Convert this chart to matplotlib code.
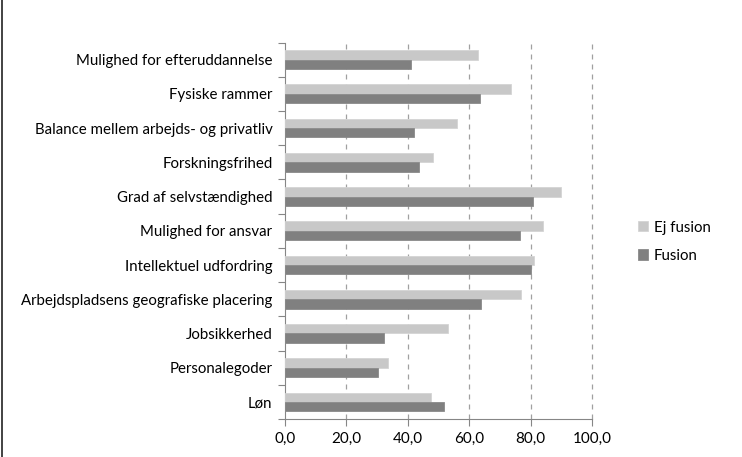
import matplotlib.pyplot as plt
import numpy as np
from matplotlib.lines import Line2D

plt.rcParams['font.family'] = ['Lato', 'DejaVu Sans']

categories = [
    "Mulighed for efteruddannelse",
    "Fysiske rammer",
    "Balance mellem arbejds- og privatliv",
    "Forskningsfrihed",
    "Grad af selvstændighed",
    "Mulighed for ansvar",
    "Intellektuel udfordring",
    "Arbejdspladsens geografiske placering",
    "Jobsikkerhed",
    "Personalegoder",
    "Løn",
]
ej_fusion = [63.0, 73.5, 55.9, 48.1, 90.0, 84.1, 81.2, 76.8, 53.1, 33.7, 47.5]
fusion = [41.1, 63.6, 42.0, 43.5, 80.9, 76.6, 80.2, 63.7, 32.1, 30.3, 51.7]
xticks = [0, 20, 40, 60, 80, 100]

fig = plt.figure(figsize=(7.42, 4.57), dpi=100)
ax = fig.add_axes([0.384, 0.083, 0.414, 0.824])

n = len(categories)
pos = np.arange(n)[::-1]  # first category at the top
h = 0.275
ax.barh(pos + h / 2, ej_fusion, height=h, color="#c8c8c8", edgecolor="#d4d4d4",
        linewidth=0.6, label="Ej fusion", zorder=3)
ax.barh(pos - h / 2, fusion, height=h, color="#808080", edgecolor="#8a8a8a",
        linewidth=0.6, label="Fusion", zorder=3)

ax.set_xlim(0, 100)
ax.set_ylim(-0.5, n - 0.5)
ax.set_xticks(xticks)
ax.set_xticklabels([f"{v:.1f}".replace(".", ",") for v in xticks], fontsize=11)

# tick marks between categories, labels at the centres
ax.set_yticks(np.arange(n + 1) - 0.5)
ax.set_yticklabels([])
ax.set_yticks(pos, minor=True)
ax.set_yticklabels(categories, minor=True, fontsize=10.8)
ax.tick_params(axis="y", which="minor", length=0, pad=9)
ax.tick_params(axis="y", which="major", length=5, color="#868686", direction="out")
ax.tick_params(axis="x", length=5, color="#868686", pad=4)

for v in xticks[1:]:
    ax.axvline(v, color="#a0a0a0", linestyle=(0, (4, 4)), linewidth=0.9,
               zorder=1, clip_on=False)

for s in ["top", "right"]:
    ax.spines[s].set_color("none")
for s in ["left", "bottom"]:
    ax.spines[s].set_color("#868686")

handles, labels = ax.get_legend_handles_labels()
fig.legend(handles, labels, loc="upper left", bbox_to_anchor=(0.842, 0.547),
           frameon=False, fontsize=10.8, handlelength=0.65, handleheight=0.65,
           handletextpad=0.4, labelspacing=0.95)

# frame line on the left edge
fig.add_artist(Line2D([0.003, 0.003], [0, 1], transform=fig.transFigure,
                      color="#222222", linewidth=1.2))

fig.savefig("out.png", dpi=100)
